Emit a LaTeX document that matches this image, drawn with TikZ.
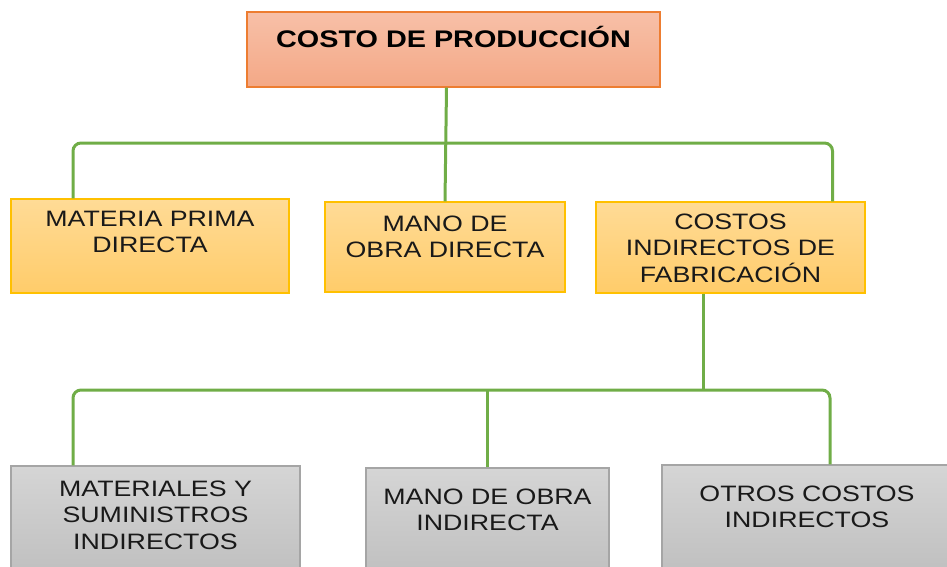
\documentclass[tikz,border=0pt]{standalone}
\usepackage{fontspec}
\setmainfont[FakeStretch=1.2]{Liberation Sans}
\usetikzlibrary{positioning,calc}
\definecolor{salmon}{RGB}{244,168,134}
\definecolor{salmonlt}{RGB}{247,192,168}
\definecolor{rust}{RGB}{237,125,49}
\definecolor{honey}{RGB}{255,204,106}
\definecolor{honeylt}{RGB}{255,219,150}
\definecolor{gold}{RGB}{255,192,0}
\definecolor{ash}{RGB}{191,191,191}
\definecolor{ashlt}{RGB}{213,213,213}
\definecolor{slate}{RGB}{165,165,165}
\definecolor{leaf}{RGB}{112,173,71}
\definecolor{ink}{RGB}{25,25,25}
\tikzset{
  headbox/.style={draw=rust,line width=1.2pt,top color=salmonlt,bottom color=salmon,
    minimum width=413pt,minimum height=75pt},
  midbox/.style={draw=gold,line width=1.2pt,top color=honeylt,bottom color=honey},
  lowbox/.style={draw=slate,line width=1.2pt,top color=ashlt,bottom color=ash},
  title/.style={font=\fontsize{24}{28}\selectfont\bfseries,text=black},
  txt/.style={font=\fontsize{22.3}{26.5}\selectfont,text=ink,align=center,inner sep=0pt},
  link/.style={draw=leaf,line width=3pt,rounded corners=8pt},
}

\begin{document}
\begin{tikzpicture}[x=1pt,y=-1pt]
  \clip (0,0) rectangle (947,567);
  \node[headbox] (cp) at (453.5,49.5) {};
  \node[title] (tcp) at (453.5,37) {COSTO DE PRODUCCIÓN};
  % second level
  \foreach \n/\x/\y/\w/\h/\ty/\t in {
    mp/150/246/278/94/232/{MATERIA PRIMA\\DIRECTA},
    mo/445/247/240/90/237/{MANO DE\\OBRA DIRECTA},
    cif/730.5/247.5/269/91/248/{COSTOS\\INDIRECTOS DE\\FABRICACIÓN}}
  {
    \node[midbox,minimum width=\w pt,minimum height=\h pt] (\n) at (\x,\y) {};
    \node[txt] (t\n) at (\x,\ty) {\t};
  }
  % third level
  \foreach \n/\x/\y/\w/\h/\ty/\t in {
    ms/155.5/521/289/110/515/{MATERIALES Y\\SUMINISTROS\\INDIRECTOS},
    mi/487.5/523/243/110/510/{MANO DE OBRA\\INDIRECTA},
    oc/807/520/290/110/507/{OTROS COSTOS\\INDIRECTOS}}
  {
    \node[lowbox,minimum width=\w pt,minimum height=\h pt] (\n) at (\x,\y) {};
    \node[txt] (t\n) at (\x,\ty) {\t};
  }
  % connectors
  \coordinate (bus1) at (447,143);
  \coordinate (bus2) at (703,390);
  \draw[link] ([xshift=-7pt]cp.south) -- (mo.north);
  \draw[link] ([xshift=-77pt]mp.north) |- (bus1) -| ([xshift=102pt]cif.north);
  \draw[link] ([xshift=-27.5pt]cif.south) -- (bus2);
  \draw[link] ([xshift=-82.5pt]ms.north) |- (bus2) -| ([xshift=23pt]oc.north);
  \draw[link] (mi.north) -- (mi.north |- bus2);
\end{tikzpicture}
\end{document}
